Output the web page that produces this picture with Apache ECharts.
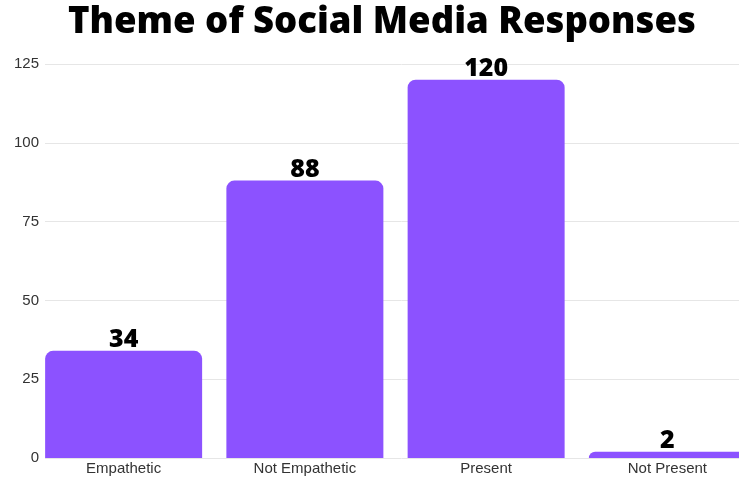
<!DOCTYPE html>
<html>
<head>
<meta charset="utf-8">
<style>
  html, body { margin: 0; padding: 0; background: #ffffff; overflow: hidden; }
  /* the canvas runs a little past the window so the last bar is cut at the edge */
  #chart { width: 758px; height: 480px; }
</style>
<script src="https://cdn.jsdelivr.net/npm/echarts@6/dist/echarts.min.js"></script>
</head>
<body>
<div id="chart"></div>
<script>
// Response themes and their counts
const categories = ['Empathetic', 'Not Empathetic', 'Present', 'Not Present'];
const counts = [34, 88, 120, 2];
const yTicks = [0, 25, 50, 75, 100, 125];

const chart = echarts.init(document.getElementById('chart'));

const yMin = yTicks[0];
const yMax = yTicks[yTicks.length - 1];
const yStep = yTicks[1] - yTicks[0];

chart.setOption({
  animation: false,
  title: {
    text: 'Theme of Social Media Responses',
    left: 63,
    top: -1,
    textStyle: {
      fontFamily: 'Open Sans',
      fontWeight: 800,
      fontSize: 36.5,
      color: '#000000'
    }
  },
  grid: [
    // bars
    { left: 33, right: 0, top: 64, bottom: 22, containLabel: false },
    // value scale, gridlines and tick labels
    { left: 45, right: 0, top: 64, bottom: 22, containLabel: false }
  ],
  xAxis: [
    {
      type: 'category',
      gridIndex: 0,
      data: categories,
      axisLine: { show: false },
      axisTick: { show: false },
      axisLabel: {
        margin: 3,
        fontFamily: 'Liberation Sans',
        fontSize: 15,
        color: '#333333'
      }
    },
    {
      type: 'value',
      gridIndex: 1,
      show: false
    }
  ],
  yAxis: [
    {
      type: 'value',
      gridIndex: 0,
      min: yMin,
      max: yMax,
      interval: yStep,
      show: false
    },
    {
      type: 'value',
      gridIndex: 1,
      min: yMin,
      max: yMax,
      interval: yStep,
      axisLine: { show: false },
      axisTick: { show: false },
      axisLabel: {
        margin: 6,
        fontFamily: 'Liberation Sans',
        fontSize: 15,
        color: '#333333'
      },
      splitLine: { lineStyle: { color: '#e6e6e6', width: 1 } }
    }
  ],
  series: [
    {
      type: 'bar',
      xAxisIndex: 0,
      yAxisIndex: 0,
      data: counts,
      barWidth: 157,
      itemStyle: {
        color: '#8c52ff',
        borderRadius: [8, 8, 0, 0]
      },
      label: {
        show: true,
        position: 'top',
        distance: -2,
        fontFamily: 'Open Sans',
        fontWeight: 800,
        fontSize: 25,
        color: '#000000'
      }
    }
  ]
});
</script>
</body>
</html>
